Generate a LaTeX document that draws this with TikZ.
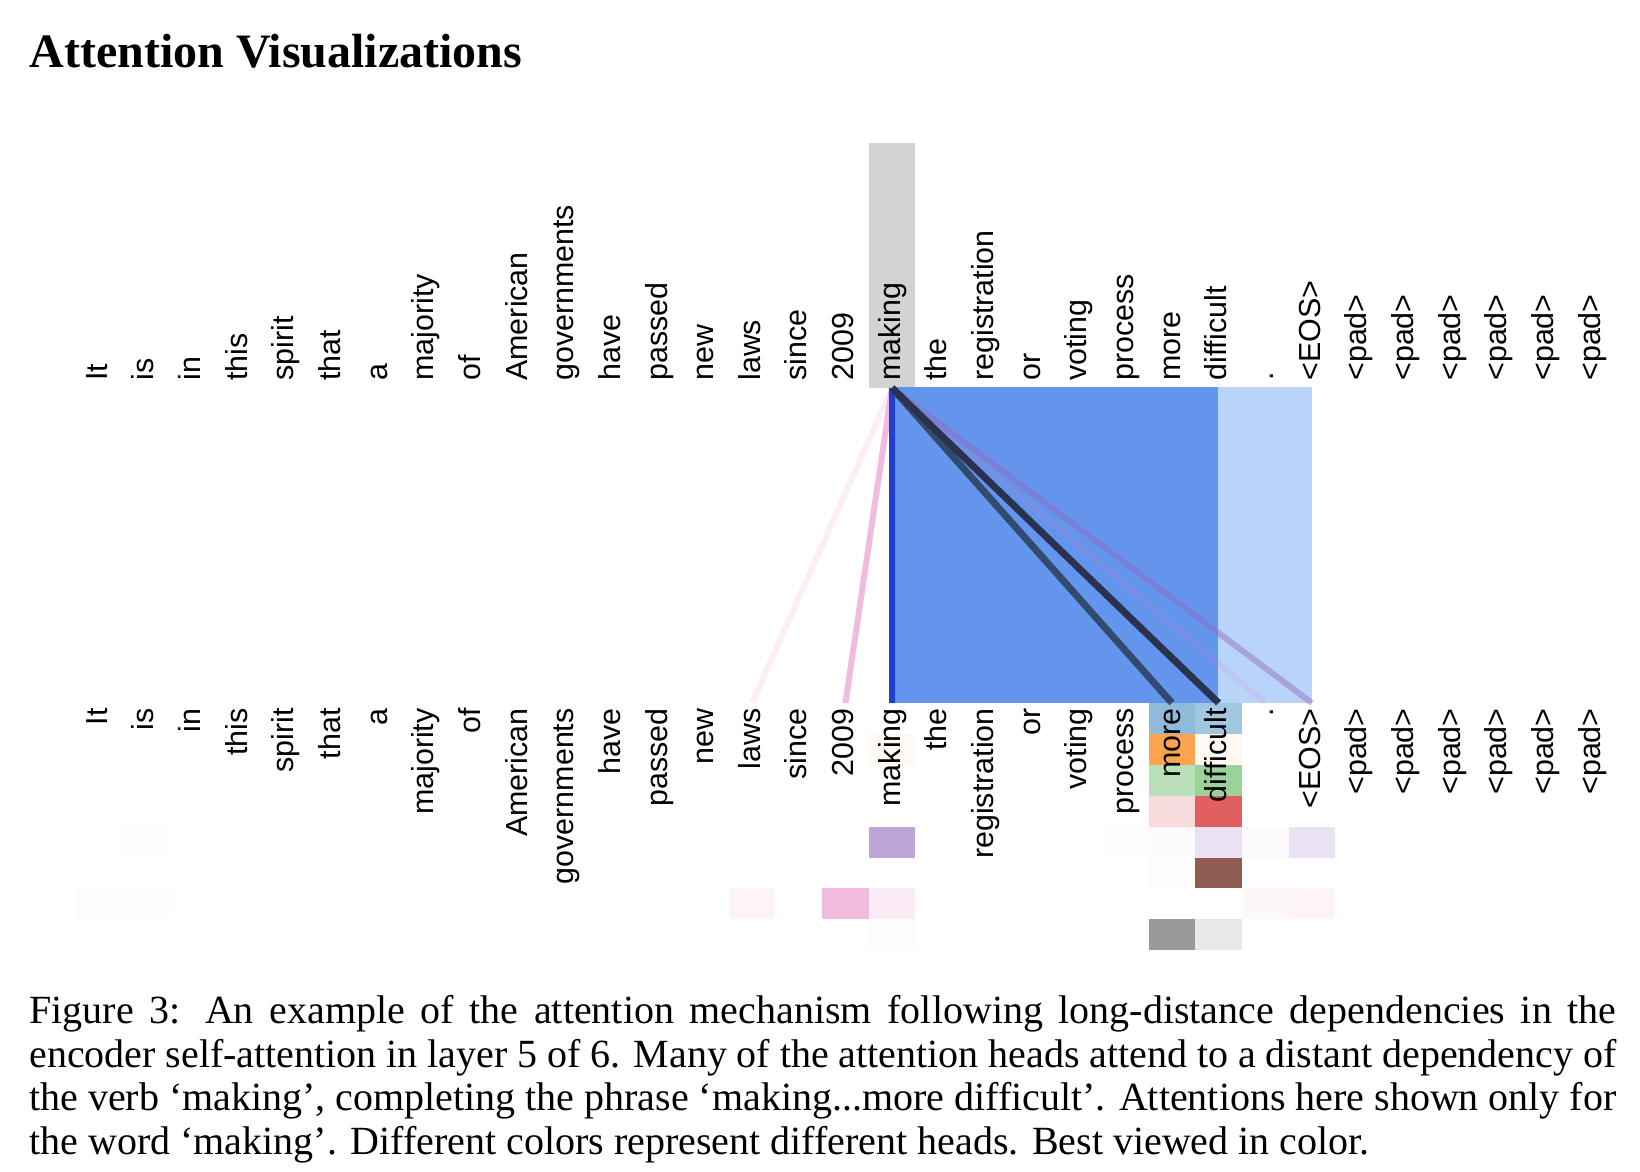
\documentclass[tikz,border=0pt]{standalone}
\usepackage{fontspec}
\setmainfont{Liberation Serif}
\newfontfamily\tokfont{Liberation Sans}
\usepackage{tikz}
\usetikzlibrary{positioning}

% head colours
\definecolor{headA}{HTML}{1F77B4}
\definecolor{headB}{HTML}{FF7F0E}
\definecolor{headC}{HTML}{2CA02C}
\definecolor{headD}{HTML}{D62728}
\definecolor{headE}{HTML}{9467BD}
\definecolor{headF}{HTML}{8C564B}
\definecolor{headG}{HTML}{E377C2}
\definecolor{headH}{HTML}{7F7F7F}
\definecolor{querybox}{HTML}{D3D3D3}
\definecolor{attnblue}{HTML}{6495ED}
\definecolor{attnlight}{HTML}{B9D4F9}
\definecolor{selfline}{HTML}{213FCC}
\definecolor{moreline}{HTML}{334A6F}
\definecolor{diffline}{HTML}{2B3250}

\tikzstyle{toptok} = [rotate=90, anchor=mid west, inner sep=0pt, font=\tokfont\fontsize{15.2}{18}\selectfont]
\tikzstyle{bottok} = [rotate=90, anchor=mid east, inner sep=0pt, font=\tokfont\fontsize{15.2}{18}\selectfont]
\tikzstyle{link} = [line width=3pt]
\tikzstyle{thicklink} = [line width=3.5pt]

\begin{document}
\begin{tikzpicture}[x=0.5pt, y=-0.5pt]
	\useasboundingbox (0,0) rectangle (1640,1172);

	% title
	\node[anchor=base west, inner sep=0pt, font=\bfseries\fontsize{24}{28}\selectfont] (title) at (29,68) {Attention Visualizations};

	% query column and attended span
	\fill[querybox] (868.7,143) rectangle (915.4,388);
	\fill[attnblue] (892.05,387) rectangle (1218.3,703);
	\fill[attnlight] (1218.3,387) rectangle (1311.6,703);

	% end points
	\coordinate (q) at (892.05,388);
	\foreach \i in {1,...,33}
		\coordinate (k\i) at ({52.35+46.65*\i},703);

	% attention lines from 'making'
	\draw[link, headG, opacity=0.12] (q) -- (k15);
	\draw[link, headG, opacity=0.5] (q) -- (k17);
	\draw[link, selfline] (q) -- (k18);
	\draw[link, headG, opacity=0.15] (q) -- (k26);
	\draw[link, headE, opacity=0.45] (q) -- (k27);
	\draw[thicklink, moreline] (q) -- (k24);
	\draw[thicklink, diffline] (q) -- (k25);

	% heads: column / row / colour / weight
	\foreach \c/\r/\col/\a in {24/1/headA/0.5, 25/1/headA/0.42,
			18/2/headB/0.05, 24/2/headB/0.72, 25/2/headB/0.05,
			24/3/headC/0.33, 25/3/headC/0.48,
			24/4/headD/0.16, 25/4/headD/0.74,
			2/5/headE/0.02, 18/5/headE/0.6, 23/5/headE/0.02, 24/5/headE/0.03, 25/5/headE/0.2, 26/5/headE/0.03, 27/5/headE/0.2,
			24/6/headF/0.02, 25/6/headF/0.97,
			1/7/headG/0.03, 2/7/headG/0.02, 15/7/headG/0.08, 17/7/headG/0.5, 18/7/headG/0.15, 26/7/headG/0.06, 27/7/headG/0.08,
			18/8/headH/0.02, 24/8/headH/0.8, 25/8/headH/0.18}
		\fill[\col, opacity=\a] ({29.05+46.65*\c},{703+30.9*(\r-1)}) rectangle ++(46.65,30.9);

	% tokens
	\foreach \w [count=\i] in {It,is,in,this,spirit,that,a,majority,of,American,governments,have,passed,new,laws,since,2009,making,the,registration,or,voting,process,more,difficult,.,<EOS>,<pad>,<pad>,<pad>,<pad>,<pad>,<pad>}
	{
		\node[toptok] (t\i) at ({56+46.65*\i},381) {\w};
		\node[bottok] (b\i) at ({56+46.65*\i},708) {\w};
	}

	% caption
	\node[anchor=north west, inner sep=0pt, text width=793.5pt, align=justify, font=\fontsize{20}{21.75}\selectfont] (caption) at (29,995)
		{Figure 3: An example of the attention mechanism following long-distance dependencies in the\linebreak
		encoder self-attention in layer 5 of 6. Many of the attention heads attend to a distant dependency of\linebreak
		the verb ‘making’, completing the phrase ‘making...more difficult’. Attentions here shown only for\linebreak
		the word ‘making’. Different colors represent different heads. Best viewed in color.};

\end{tikzpicture}
\end{document}
